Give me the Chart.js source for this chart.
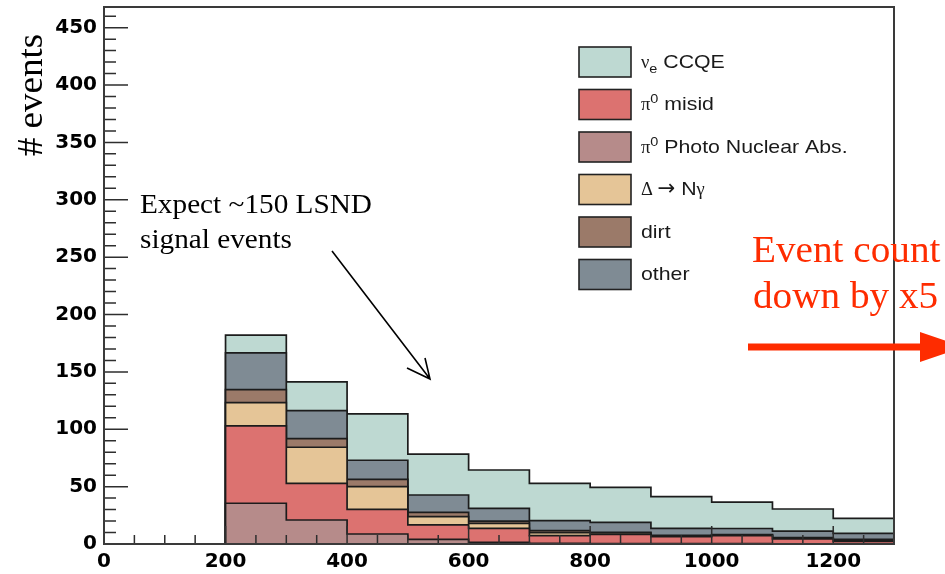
<!DOCTYPE html>
<html>
<head>
<meta charset="utf-8">
<script src="https://cdn.jsdelivr.net/npm/chart.js@4/dist/chart.umd.min.js"></script>
<style>
  html, body { margin: 0; padding: 0; background: #ffffff; }
  canvas { display: block; }
</style>
</head>
<body>
<canvas id="chart" width="945" height="574"></canvas>
<script>
// Lower edges of the reconstructed-energy bins (MeV); every bin is 100 MeV wide.
const binLow = [200, 300, 400, 500, 600, 700, 800, 900, 1000, 1100, 1200];
const binWidth = 100;

// Expected events per bin for each component of the stack.
const photoNuclear = [35.5, 20.9, 8.7, 4.1, 1.5, 0.5, 0.3, 0.3, 0.3, 0.2, 0.2];
const pi0Misid     = [67.4, 32.0, 21.5, 12.5, 12.2, 6.8, 8.1, 6.1, 7.0, 4.2, 2.1];
const deltaNgamma  = [20.3, 31.4, 19.8, 7.2, 4.3, 2.6, 1.2, 0.6, 0.5, 0.6, 1.0];
const dirt         = [11.4, 7.6, 6.4, 3.8, 2.0, 1.7, 0.6, 0.6, 0.5, 0.5, 0.8];
const other        = [32.0, 24.4, 16.6, 15.1, 11.1, 8.7, 8.7, 6.1, 5.2, 5.8, 5.2];
const nueCCQE      = [15.4, 25.0, 40.4, 35.7, 33.4, 32.6, 30.5, 27.6, 23.0, 19.2, 13.1];

// Axis ranges and tick spacing.
const xRange = [0, 1300];
const yRange = [0, 468];
const xLabelStep = 200, xMinorStep = 50;
const yLabelStep = 50, yMinorStep = 10;

// Stack order, bottom to top. Legend text is split into runs so that
// sub- and superscripts can be set smaller.
const components = [
  { key: 'pna',   label: 'π0 Photo Nuclear Abs.', values: photoNuclear, color: '#b68b8a',
    parts: [['π', 'sym'], ['0', 'sup'], [' Photo Nuclear Abs.']] },
  { key: 'misid', label: 'π0 misid', values: pi0Misid, color: '#dc7270',
    parts: [['π', 'sym'], ['0', 'sup'], [' misid']] },
  { key: 'delta', label: 'Δ → Nγ', values: deltaNgamma, color: '#e5c597',
    parts: [['Δ ', 'sym'], ['→', 'arrow'], [' N'], ['γ', 'sym']] },
  { key: 'dirt',  label: 'dirt', values: dirt, color: '#9b7a69',
    parts: [['dirt']] },
  { key: 'other', label: 'other', values: other, color: '#7f8b94',
    parts: [['other']] },
  { key: 'ccqe',  label: 'νe CCQE', values: nueCCQE, color: '#bed9d2',
    parts: [['ν', 'sym'], ['e', 'sub'], [' CCQE']] }
];

// Legend rows, top to bottom.
const legendOrder = ['ccqe', 'misid', 'pna', 'delta', 'dirt', 'other'];

// Each stack layer is drawn as a filled step outline of the running sum;
// the tallest is drawn first, so the lower layers sit on top of it.
const running = binLow.map(() => 0);
const datasets = components.map(c => {
  c.values.forEach((v, i) => { running[i] += v; });
  const pts = [{ x: binLow[0] - binWidth, y: 0 }];
  binLow.forEach((lo, i) => pts.push({ x: lo, y: running[i] }));
  pts.push({ x: binLow[binLow.length - 1] + binWidth, y: running[running.length - 1] });
  return {
    label: c.label,
    data: pts,
    stepped: true,
    fill: 'origin',
    backgroundColor: c.color,
    borderColor: '#1c1c1c',
    borderWidth: 1.7,
    pointRadius: 0,
    tension: 0
  };
});

const tickFont = { family: 'DejaVu Sans', weight: 'bold', size: 20 };

// Ticks that point into the frame, plus the frame itself.
const frameAndTicks = {
  id: 'frameAndTicks',
  afterDatasetsDraw(chart) {
    const { ctx, chartArea: a, scales: { x, y } } = chart;
    ctx.save();
    ctx.strokeStyle = '#2e2e2e';
    ctx.lineWidth = 1.5;
    ctx.beginPath();
    for (let v = yRange[0]; v <= yRange[1]; v += yMinorStep) {
      const py = y.getPixelForValue(v);
      const len = v % yLabelStep === 0 ? 24 : 12;
      ctx.moveTo(a.left, py);
      ctx.lineTo(a.left + len, py);
    }
    for (let v = xRange[0]; v <= xRange[1]; v += xMinorStep) {
      const px = x.getPixelForValue(v);
      const len = v % xLabelStep === 0 ? 18 : 9;
      ctx.moveTo(px, a.bottom);
      ctx.lineTo(px, a.bottom - len);
    }
    ctx.stroke();
    ctx.lineWidth = 2;
    ctx.strokeStyle = '#3a3a3a';
    ctx.strokeRect(a.left, a.top, a.right - a.left, a.bottom - a.top);
    ctx.restore();
  }
};

function stretchedText(ctx, text, x, y, sx) {
  ctx.save();
  ctx.translate(x, y);
  ctx.scale(sx, 1);
  ctx.fillText(text, 0, 0);
  ctx.restore();
}

// Legend inside the frame, axis title and the slide annotations.
const overlay = {
  id: 'overlay',
  afterDraw(chart) {
    const { ctx } = chart;
    ctx.save();

    // Legend
    const boxX = 579, boxW = 52, boxH = 30, rowTop = 47, rowGap = 42.5;
    const sx = 1.15, baseSize = 18.5;
    legendOrder.forEach((key, row) => {
      const c = components.find(cc => cc.key === key);
      const top = rowTop + row * rowGap;
      ctx.fillStyle = c.color;
      ctx.fillRect(boxX, top, boxW, boxH);
      ctx.strokeStyle = '#222';
      ctx.lineWidth = 1.6;
      ctx.strokeRect(boxX, top, boxW, boxH);
      let tx = 641;
      const base = top + boxH / 2 + 5.5;
      ctx.fillStyle = '#1a1a1a';
      ctx.textBaseline = 'alphabetic';
      ctx.textAlign = 'left';
      c.parts.forEach(([t, kind]) => {
        let size = baseSize, dy = 0, family = '"Liberation Sans", Arial, sans-serif', s = sx;
        if (kind === 'sup') { size = baseSize * 0.68; dy = -7; }
        if (kind === 'sub') { size = baseSize * 0.68; dy = 5; }
        if (kind === 'sym') { family = '"Liberation Serif", "Times New Roman", serif'; s = 1.0; }
        if (kind === 'arrow') { family = '"DejaVu Sans", sans-serif'; size = baseSize * 1.15; s = 1.0; }
        ctx.font = size + 'px ' + family;
        stretchedText(ctx, t, tx, base + dy, s);
        tx += ctx.measureText(t).width * s;
      });
    });

    // Y axis title
    ctx.save();
    ctx.translate(42, 95);
    ctx.rotate(-Math.PI / 2);
    ctx.scale(1.06, 1);
    ctx.font = '35px "Liberation Serif", "Times New Roman", serif';
    ctx.fillStyle = '#000';
    ctx.textAlign = 'center';
    ctx.textBaseline = 'alphabetic';
    ctx.fillText('# events', 0, 0);
    ctx.restore();

    // Signal annotation
    ctx.font = '28px "Liberation Serif", "Times New Roman", serif';
    ctx.fillStyle = '#000';
    ctx.textAlign = 'left';
    ctx.textBaseline = 'alphabetic';
    stretchedText(ctx, 'Expect ~150 LSND', 140, 213, 1.045);
    stretchedText(ctx, 'signal events', 140, 248, 1.045);

    ctx.strokeStyle = '#000';
    ctx.lineWidth = 1.6;
    ctx.beginPath();
    ctx.moveTo(332, 251);
    ctx.lineTo(430, 379);
    ctx.moveTo(407, 368);
    ctx.lineTo(430, 379);
    ctx.lineTo(425, 358);
    ctx.stroke();

    // Scale-down note and arrow
    ctx.fillStyle = '#fe2c00';
    ctx.font = '37px "Liberation Serif", "Times New Roman", serif';
    stretchedText(ctx, 'Event count', 752, 262, 1.06);
    stretchedText(ctx, 'down by x5', 753, 308, 1.06);

    ctx.fillRect(748, 343.5, 174, 7);
    ctx.beginPath();
    ctx.moveTo(920, 332);
    ctx.lineTo(964, 347);
    ctx.lineTo(920, 362);
    ctx.closePath();
    ctx.fill();

    ctx.restore();
  }
};

new Chart(document.getElementById('chart'), {
  type: 'line',
  data: { datasets },
  options: {
    responsive: false,
    animation: false,
    layout: { padding: { top: 7, right: 51, left: 0, bottom: 0 } },
    scales: {
      x: {
        type: 'linear',
        min: xRange[0],
        max: xRange[1],
        grid: { display: false, drawTicks: false },
        border: { display: false },
        ticks: {
          stepSize: xLabelStep,
          includeBounds: false,
          autoSkip: false,
          maxRotation: 0,
          padding: 6,
          color: '#000',
          font: tickFont,
          callback: v => String(v)
        },
        afterFit(scale) {
          scale.height = 30;
          scale.paddingLeft = 0;
          scale.paddingRight = 0;
        }
      },
      y: {
        type: 'linear',
        min: yRange[0],
        max: yRange[1],
        grid: { display: false, drawTicks: false },
        border: { display: false },
        ticks: {
          stepSize: yLabelStep,
          includeBounds: false,
          padding: 7,
          color: '#000',
          font: tickFont,
          callback: v => String(v)
        },
        afterFit(scale) {
          scale.width = 104;
          scale.paddingTop = 0;
          scale.paddingBottom = 0;
        }
      }
    },
    plugins: {
      legend: { display: false },
      tooltip: { enabled: false },
      filler: { drawTime: 'beforeDatasetDraw' }
    }
  },
  plugins: [frameAndTicks, overlay]
});
</script>
</body>
</html>
